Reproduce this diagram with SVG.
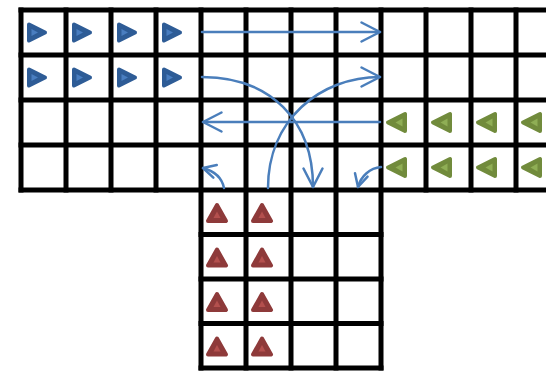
<svg xmlns="http://www.w3.org/2000/svg" xmlns:xlink="http://www.w3.org/1999/xlink" width="546" height="371" viewBox="0 0 546 371">
<style>
.grid{fill:none;stroke:#000;stroke-width:5}
.conn{fill:none;stroke:#4A7EBB;stroke-width:2.5;stroke-linecap:round}
.head{fill:none;stroke:#4A7EBB;stroke-width:2.5;stroke-linecap:round;stroke-linejoin:round}
.tb{fill:#2E5C96;stroke:#2E5C96;stroke-width:4;stroke-linejoin:round}
.tbi{fill:#4A7EC0}
.tg{fill:#718B3C;stroke:#718B3C;stroke-width:4;stroke-linejoin:round}
.tgi{fill:#8FAE55}
.tr{fill:#8E3A3A;stroke:#8E3A3A;stroke-width:4;stroke-linejoin:round}
.tri{fill:#B4504E}
</style>
<defs>
<marker id="ah" markerUnits="userSpaceOnUse" markerWidth="40" markerHeight="40" refX="20" refY="10" orient="auto" overflow="visible">
<path class="head" d="M1.5,0.5 L20,10 L1.5,19.5"/>
</marker>
<marker id="ahs" markerUnits="userSpaceOnUse" markerWidth="40" markerHeight="40" refX="14" refY="8" orient="auto" overflow="visible">
<path class="head" d="M1.5,1.5 L14,8 L1.5,14.5"/>
</marker>
<g id="blue">
<polygon class="tb" points="8,14.5 24,22.5 8,30.5"/>
<polygon class="tbi" points="10.5,19 17,22.5 10.5,26"/>
</g>
<g id="green">
<polygon class="tg" points="7,22.5 24,14 24,31"/>
<polygon class="tgi" points="14.5,22.5 21.5,18.5 21.5,26.5"/>
</g>
<g id="red">
<polygon class="tr" points="16,15 25,31 7,31"/>
<polygon class="tri" points="16,21.5 19.5,28 12.5,28"/>
</g>
</defs>
<rect width="546" height="371" fill="#fff"/>
<g id="grid">
<path class="grid" d="M18.5,10 H546 M18.5,55 H546 M18.5,100 H546 M18.5,145 H546 M18.5,190 H546 M198.5,234.5 H383.5 M198.5,279 H383.5 M198.5,323.5 H383.5 M198.5,368 H383.5"/>
<path class="grid" d="M21,7.5 V192.5 M66,7.5 V192.5 M111,7.5 V192.5 M156,7.5 V192.5 M426,7.5 V192.5 M471,7.5 V192.5 M516,7.5 V192.5 M201,7.5 V370.5 M246,7.5 V370.5 M291,7.5 V370.5 M336,7.5 V370.5 M381,7.5 V370.5"/>
</g>
<g id="blue-agents">
<use id="b1" xlink:href="#blue" x="21" y="10"/>
<use id="b2" xlink:href="#blue" x="66" y="10"/>
<use id="b3" xlink:href="#blue" x="111" y="10"/>
<use id="b4" xlink:href="#blue" x="156" y="10"/>
<use id="b5" xlink:href="#blue" x="21" y="55"/>
<use id="b6" xlink:href="#blue" x="66" y="55"/>
<use id="b7" xlink:href="#blue" x="111" y="55"/>
<use id="b8" xlink:href="#blue" x="156" y="55"/>
</g>
<g id="green-agents">
<use id="g1" xlink:href="#green" x="381" y="100"/>
<use id="g2" xlink:href="#green" x="426" y="100"/>
<use id="g3" xlink:href="#green" x="471" y="100"/>
<use id="g4" xlink:href="#green" x="516" y="100"/>
<use id="g5" xlink:href="#green" x="381" y="145"/>
<use id="g6" xlink:href="#green" x="426" y="145"/>
<use id="g7" xlink:href="#green" x="471" y="145"/>
<use id="g8" xlink:href="#green" x="516" y="145"/>
</g>
<g id="red-agents">
<use id="r1" xlink:href="#red" x="201" y="190"/>
<use id="r2" xlink:href="#red" x="246" y="190"/>
<use id="r3" xlink:href="#red" x="201" y="234.5"/>
<use id="r4" xlink:href="#red" x="246" y="234.5"/>
<use id="r5" xlink:href="#red" x="201" y="279"/>
<use id="r6" xlink:href="#red" x="246" y="279"/>
<use id="r7" xlink:href="#red" x="201" y="323.5"/>
<use id="r8" xlink:href="#red" x="246" y="323.5"/>
</g>
<g id="connectors">
<path class="conn" d="M202,32 L380,32" marker-end="url(#ah)"/>
<path class="conn" d="M202,77 C270,77 313,120 313,187" marker-end="url(#ah)"/>
<path class="conn" d="M268,188 C268,120 320,77 380,77" marker-end="url(#ah)"/>
<path class="conn" d="M380,122 L203,122" marker-end="url(#ah)"/>
<path class="conn" d="M224,188 C222,178 214,171 203,168" marker-end="url(#ahs)"/>
<path class="conn" d="M381,167 C370,168 361,176 358,187" marker-end="url(#ahs)"/>
</g>
</svg>
